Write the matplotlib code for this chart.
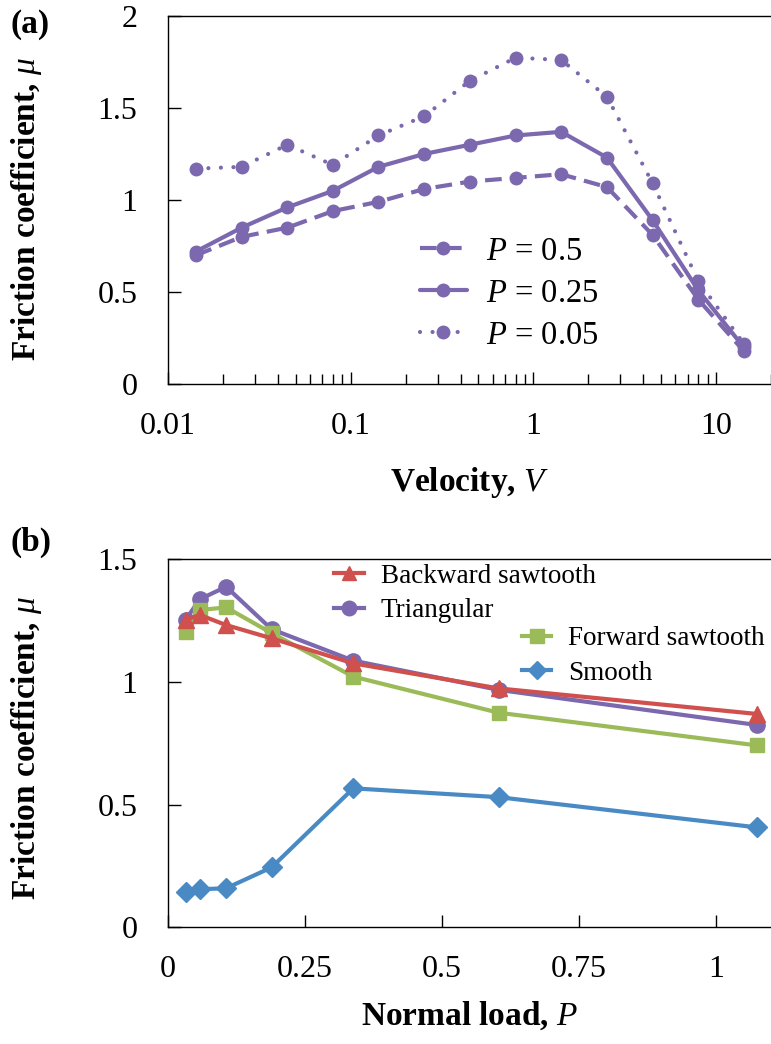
import matplotlib
matplotlib.use("Agg")
import matplotlib.pyplot as plt
from matplotlib.lines import Line2D
from matplotlib.ticker import LogLocator, FixedLocator, NullFormatter, FuncFormatter

plt.rcParams["font.family"] = ["Liberation Serif", "DejaVu Serif"]
plt.rcParams["mathtext.fontset"] = "custom"
plt.rcParams["mathtext.rm"] = "Liberation Serif"
plt.rcParams["mathtext.it"] = "Liberation Serif:italic"
plt.rcParams["mathtext.bf"] = "Liberation Serif:bold"

# ---- (a) friction coefficient vs sliding velocity ----
velocity = [0.0142, 0.0253, 0.045, 0.08, 0.142, 0.253, 0.45, 0.8, 1.42, 2.53, 4.5, 8.0, 14.2]
mu_p050 = [0.70, 0.80, 0.85, 0.94, 0.99, 1.06, 1.10, 1.12, 1.14, 1.07, 0.81, 0.46, 0.18]
mu_p025 = [0.72, 0.85, 0.96, 1.05, 1.18, 1.25, 1.30, 1.35, 1.37, 1.23, 0.89, 0.51, 0.20]
mu_p005 = [1.17, 1.18, 1.30, 1.19, 1.35, 1.455, 1.647, 1.772, 1.76, 1.56, 1.09, 0.56, 0.22]
labels_a = ["$P$ = 0.5", "$P$ = 0.25", "$P$ = 0.05"]

# ---- (b) friction coefficient vs normal load ----
load = [0.032, 0.058, 0.106, 0.189, 0.338, 0.603, 1.074]
mu_backward = [1.252, 1.272, 1.231, 1.177, 1.075, 0.973, 0.869]
mu_triangular = [1.252, 1.336, 1.387, 1.214, 1.086, 0.967, 0.824]
mu_forward = [1.204, 1.292, 1.303, 1.198, 1.021, 0.874, 0.741]
mu_smooth = [0.145, 0.155, 0.159, 0.244, 0.566, 0.530, 0.407]

PURPLE = "#7B68AE"
RED = "#CF504D"
GREEN = "#9BBB59"
BLUE = "#4A8AC4"

TICK_FS = 23
LABEL_FS = 24
LEG_A_FS = 23.5
LEG_B_FS = 19.5

fig = plt.figure(figsize=(7.71, 10.44), dpi=100)

W, H = 771.0, 1044.0
def rect(x0, y0, x1, y1):
    return [x0 / W, 1 - y1 / H, (x1 - x0) / W, (y1 - y0) / H]

fmt = FuncFormatter(lambda v, p: f"{v:g}")

# ---------------- panel (a) ----------------
ax1 = fig.add_axes(rect(168, 15.7, 771, 384.3))
styles = [dict(ls=(0, (4.0, 2.0))), dict(ls="-"), dict(ls=(0, (0.01, 3.0)), dash_capstyle="round")]
for y, lab, st in zip([mu_p050, mu_p025, mu_p005], labels_a, styles):
    ax1.plot(velocity, y, color=PURPLE, lw=3.0, marker="o", ms=9, label=lab,
             solid_capstyle="round", **st)
ax1.set_xscale("log")
ax1.set_xlim(0.01, 20)
ax1.set_ylim(0, 2)
ax1.set_yticks([0, 0.5, 1, 1.5, 2])
ax1.yaxis.set_major_formatter(fmt)
ax1.xaxis.set_major_locator(FixedLocator([0.01, 0.1, 1, 10]))
ax1.xaxis.set_major_formatter(fmt)
ax1.xaxis.set_minor_locator(LogLocator(base=10, subs=range(2, 10), numticks=20))
ax1.xaxis.set_minor_formatter(NullFormatter())
ax1.tick_params(axis="both", which="both", direction="in", labelsize=TICK_FS, width=1.0)
ax1.tick_params(axis="y", which="major", length=9, pad=22)
ax1.tick_params(axis="x", which="major", length=9, pad=20)
ax1.tick_params(axis="x", which="minor", length=7)
ax1.spines["right"].set_visible(False)
for s in ["left", "bottom", "top"]:
    ax1.spines[s].set_linewidth(1.0)
ax1.set_xlabel("Velocity, $V$", fontsize=LABEL_FS, fontweight="bold")
ax1.xaxis.set_label_coords(0.5, -0.218)
ax1.set_ylabel("Friction coefficient, $\\mu$", fontsize=LABEL_FS, fontweight="bold")
ax1.yaxis.set_label_coords(-0.205, 0.476)
ax1.legend(loc="upper left", bbox_to_anchor=(0.369, 0.481), frameon=False,
           fontsize=LEG_A_FS, handlelength=1.44, handletextpad=0.58, labelspacing=0.35)
fig.text(11 / W, 1 - 33 / H, "(a)", fontsize=LABEL_FS, fontweight="bold")

# ---------------- panel (b) ----------------
ax2 = fig.add_axes(rect(168, 559, 771, 927.3))
series_b = [
    (mu_smooth, BLUE, "D", 10, "Smooth"),
    (mu_triangular, PURPLE, "o", 11, "Triangular"),
    (mu_forward, GREEN, "s", 10, "Forward sawtooth"),
    (mu_backward, RED, "^", 11, "Backward sawtooth"),
]
handles = {}
for y, c, m, ms, lab in series_b:
    (h,) = ax2.plot(load, y, color=c, lw=3.0, marker=m, ms=ms, label=lab)
    handles[lab] = h
ax2.set_xlim(0, 1.1)
ax2.set_ylim(0, 1.5)
ax2.set_xticks([0, 0.25, 0.5, 0.75, 1])
ax2.set_yticks([0, 0.5, 1, 1.5])
ax2.xaxis.set_major_formatter(fmt)
ax2.yaxis.set_major_formatter(fmt)
ax2.tick_params(axis="both", which="both", direction="in", labelsize=TICK_FS, width=1.0, length=9)
ax2.tick_params(axis="y", pad=22)
ax2.tick_params(axis="x", pad=20)
ax2.spines["right"].set_visible(False)
for s in ["left", "bottom", "top"]:
    ax2.spines[s].set_linewidth(1.0)
ax2.set_xlabel("Normal load, $P$", fontsize=LABEL_FS, fontweight="bold")
ax2.xaxis.set_label_coords(0.5, -0.197)
ax2.set_ylabel("Friction coefficient, $\\mu$", fontsize=LABEL_FS, fontweight="bold")
ax2.yaxis.set_label_coords(-0.205, 0.486)

def short_handle(h):
    return Line2D([], [], color=h.get_color(), lw=3.0, marker=h.get_marker(),
                  ms=h.get_markersize() * 0.95)

legA = ax2.legend([short_handle(handles["Backward sawtooth"]), short_handle(handles["Triangular"])],
                  ["Backward sawtooth", "Triangular"], loc="upper left",
                  bbox_to_anchor=(0.235, 1.053), frameon=False, fontsize=LEG_B_FS,
                  handlelength=1.1, handletextpad=0.63, labelspacing=0.35)
ax2.add_artist(legA)
ax2.legend([short_handle(handles["Forward sawtooth"]), short_handle(handles["Smooth"])],
           ["Forward sawtooth", "Smooth"], loc="upper left",
           bbox_to_anchor=(0.546, 0.883), frameon=False, fontsize=LEG_B_FS,
           handlelength=1.1, handletextpad=0.63, labelspacing=0.35)
fig.text(11 / W, 1 - 551 / H, "(b)", fontsize=LABEL_FS, fontweight="bold")

fig.savefig("out.png", dpi=100)
